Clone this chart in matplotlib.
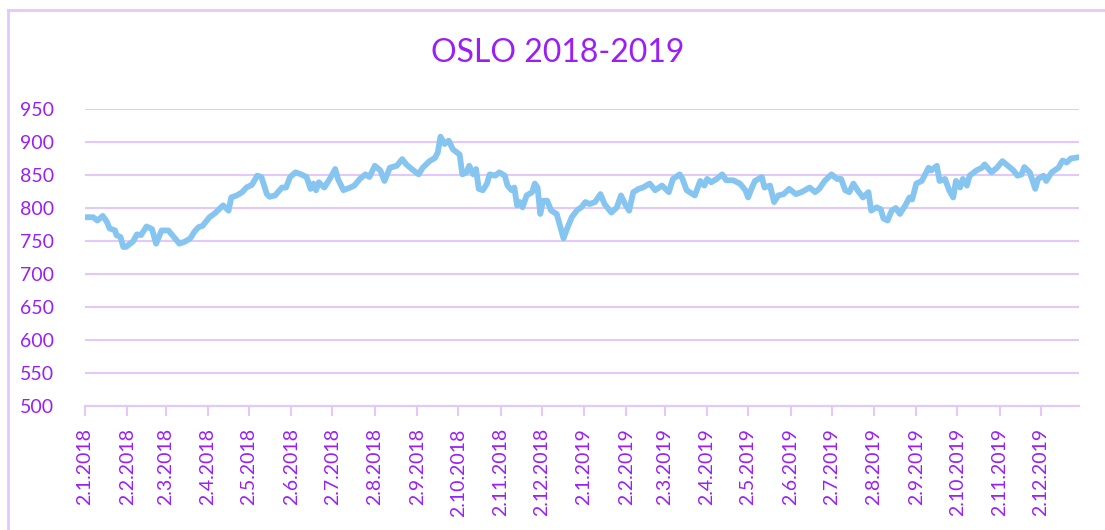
# OSLO 2018-2019 line chart
import matplotlib
matplotlib.use("Agg")
import matplotlib.pyplot as plt
from matplotlib.lines import Line2D
import pandas as pd

# [data] values
dates = [
    "2018-01-02", "2018-01-08", "2018-01-11", "2018-01-15", "2018-01-18", "2018-01-20",
    "2018-01-24", "2018-01-25", "2018-01-28", "2018-01-30", "2018-02-01", "2018-02-04",
    "2018-02-06", "2018-02-09", "2018-02-12", "2018-02-16", "2018-02-20", "2018-02-23",
    "2018-02-27", "2018-03-04", "2018-03-08", "2018-03-12", "2018-03-16", "2018-03-20",
    "2018-03-23", "2018-03-26", "2018-03-29", "2018-04-03", "2018-04-07", "2018-04-11",
    "2018-04-13", "2018-04-17", "2018-04-19", "2018-04-23", "2018-04-27", "2018-04-30",
    "2018-05-04", "2018-05-08", "2018-05-11", "2018-05-15", "2018-05-17", "2018-05-21",
    "2018-05-26", "2018-05-29", "2018-06-01", "2018-06-05", "2018-06-09", "2018-06-13",
    "2018-06-16", "2018-06-18", "2018-06-20", "2018-06-22", "2018-06-26", "2018-06-30",
    "2018-07-04", "2018-07-06", "2018-07-10", "2018-07-15", "2018-07-18", "2018-07-22",
    "2018-07-26", "2018-07-29", "2018-08-02", "2018-08-06", "2018-08-09", "2018-08-13",
    "2018-08-18", "2018-08-22", "2018-08-25", "2018-08-29", "2018-09-03", "2018-09-06",
    "2018-09-11", "2018-09-15", "2018-09-17", "2018-09-19", "2018-09-22", "2018-09-25",
    "2018-09-28", "2018-10-03", "2018-10-05", "2018-10-08", "2018-10-10", "2018-10-13",
    "2018-10-15", "2018-10-17", "2018-10-20", "2018-10-23", "2018-10-25", "2018-10-29",
    "2018-11-01", "2018-11-05", "2018-11-07", "2018-11-10", "2018-11-12", "2018-11-14",
    "2018-11-16", "2018-11-18", "2018-11-21", "2018-11-25", "2018-11-27", "2018-11-29",
    "2018-12-01", "2018-12-03", "2018-12-06", "2018-12-09", "2018-12-13", "2018-12-15",
    "2018-12-18", "2018-12-21", "2018-12-24", "2018-12-28", "2018-12-31", "2019-01-03",
    "2019-01-06", "2019-01-10", "2019-01-14", "2019-01-17", "2019-01-22", "2019-01-26",
    "2019-01-29", "2019-02-01", "2019-02-04", "2019-02-07", "2019-02-11", "2019-02-14",
    "2019-02-19", "2019-02-23", "2019-02-28", "2019-03-05", "2019-03-08", "2019-03-13",
    "2019-03-15", "2019-03-18", "2019-03-24", "2019-03-28", "2019-03-31", "2019-04-02",
    "2019-04-05", "2019-04-09", "2019-04-13", "2019-04-16", "2019-04-21", "2019-04-26",
    "2019-04-30", "2019-05-02", "2019-05-04", "2019-05-07", "2019-05-12", "2019-05-14",
    "2019-05-18", "2019-05-21", "2019-05-24", "2019-05-28", "2019-06-01", "2019-06-06",
    "2019-06-10", "2019-06-16", "2019-06-20", "2019-06-23", "2019-06-27", "2019-07-02",
    "2019-07-06", "2019-07-09", "2019-07-12", "2019-07-15", "2019-07-18", "2019-07-21",
    "2019-07-25", "2019-07-29", "2019-07-31", "2019-08-04", "2019-08-07", "2019-08-09",
    "2019-08-12", "2019-08-15", "2019-08-18", "2019-08-21", "2019-08-25", "2019-08-28",
    "2019-08-30", "2019-09-02", "2019-09-06", "2019-09-11", "2019-09-13", "2019-09-17",
    "2019-09-19", "2019-09-23", "2019-09-26", "2019-09-29", "2019-10-01", "2019-10-04",
    "2019-10-06", "2019-10-09", "2019-10-11", "2019-10-16", "2019-10-20", "2019-10-22",
    "2019-10-27", "2019-10-31", "2019-11-04", "2019-11-08", "2019-11-12", "2019-11-15",
    "2019-11-18", "2019-11-20", "2019-11-24", "2019-11-28", "2019-11-30", "2019-12-04",
    "2019-12-06", "2019-12-10", "2019-12-15", "2019-12-18", "2019-12-21", "2019-12-24",
    "2019-12-30",
]
values = [
    786, 786, 781, 788, 779, 769,
    766, 759, 756, 741, 741, 746,
    749, 760, 759, 772, 768, 746,
    766, 766, 756, 746, 749, 754,
    764, 771, 773, 786, 792, 800,
    804, 796, 816, 819, 824, 831,
    835, 849, 847, 821, 817, 819,
    831, 831, 847, 854, 851, 847,
    829, 837, 827, 839, 831, 844,
    859, 844, 827, 831, 834, 844,
    851, 847, 864, 857, 841, 861,
    864, 874, 866, 859, 851, 861,
    871, 876, 884, 908, 897, 902,
    889, 881, 851, 854, 864, 851,
    859, 829, 827, 837, 851, 849,
    854, 849, 834, 827, 831, 804,
    809, 801, 819, 824, 837, 831,
    791, 811, 811, 796, 791, 776,
    754, 771, 786, 797, 801, 809,
    806, 809, 821, 806, 793, 801,
    819, 806, 796, 824, 829, 831,
    837, 827, 834, 824, 844, 851,
    844, 827, 819, 841, 834, 844,
    839, 844, 851, 842, 842, 837,
    827, 816, 827, 841, 847, 831,
    834, 809, 819, 821, 829, 821,
    824, 831, 824, 829, 841, 851,
    844, 844, 827, 824, 837, 827,
    816, 824, 796, 801, 798, 784,
    781, 796, 800, 791, 804, 816,
    813, 837, 841, 861, 857, 864,
    841, 844, 827, 816, 841, 831,
    844, 834, 849, 857, 861, 866,
    854, 861, 871, 864, 857, 849,
    851, 862, 854, 829, 844, 849,
    841, 854, 861, 872, 869, 875,
    877,
]
tick_labels = [
    "2.1.2018", "2.2.2018", "2.3.2018", "2.4.2018", "2.5.2018", "2.6.2018",
    "2.7.2018", "2.8.2018", "2.9.2018", "2.10.2018", "2.11.2018", "2.12.2018",
    "2.1.2019", "2.2.2019", "2.3.2019", "2.4.2019", "2.5.2019", "2.6.2019",
    "2.7.2019", "2.8.2019", "2.9.2019", "2.10.2019", "2.11.2019", "2.12.2019",
]
y_ticks = [500, 550, 600, 650, 700, 750, 800, 850, 900, 950]

#[style]
purple = "#9b1ff5"
grid_col = "#e5c8fa"
line_col = "#85c5ef"
plt.rcParams["font.family"] = ["Lato", "DejaVu Sans"]

x = pd.to_datetime(dates)
tick_pos = pd.to_datetime(tick_labels, format="%d.%m.%Y")

fig = plt.figure(figsize=(11.05, 5.3), dpi=100)
ax = fig.add_axes([85 / 1105, 1 - 406 / 530, 994 / 1105, 297 / 530])

ax.plot(x, values, color=line_col, lw=4.2, solid_capstyle="round", solid_joinstyle="round", zorder=3)

ax.set_ylim(500, 950)
ax.set_xlim(x[0], x[-1])
ax.set_yticks(y_ticks)
ax.set_xticks(tick_pos)
ax.set_xticklabels(tick_labels, rotation=90)

ax.yaxis.grid(True, color=grid_col, lw=1.5)
ax.set_axisbelow(True)
for s in ["top", "right", "left"]:
    ax.spines[s].set_visible(False)
ax.spines["bottom"].set_color(grid_col)
ax.spines["bottom"].set_linewidth(1.5)
ax.tick_params(axis="y", length=0, pad=22, labelcolor=purple, labelsize=14)
ax.tick_params(axis="x", length=7, width=1.5, color=grid_col, pad=9, labelcolor=purple, labelsize=14)

fig.text(558 / 1105, 1 - 53 / 530, "OSLO 2018-2019", color=purple, fontsize=23,
         ha="center", va="center")

# 外枠
fig.add_artist(Line2D([8 / 1105, 8 / 1105], [0, 1 - 10 / 530], color=grid_col, lw=2))
fig.add_artist(Line2D([8 / 1105, 1], [1 - 10 / 530, 1 - 10 / 530], color=grid_col, lw=2))

fig.savefig("out.png", dpi=100)
